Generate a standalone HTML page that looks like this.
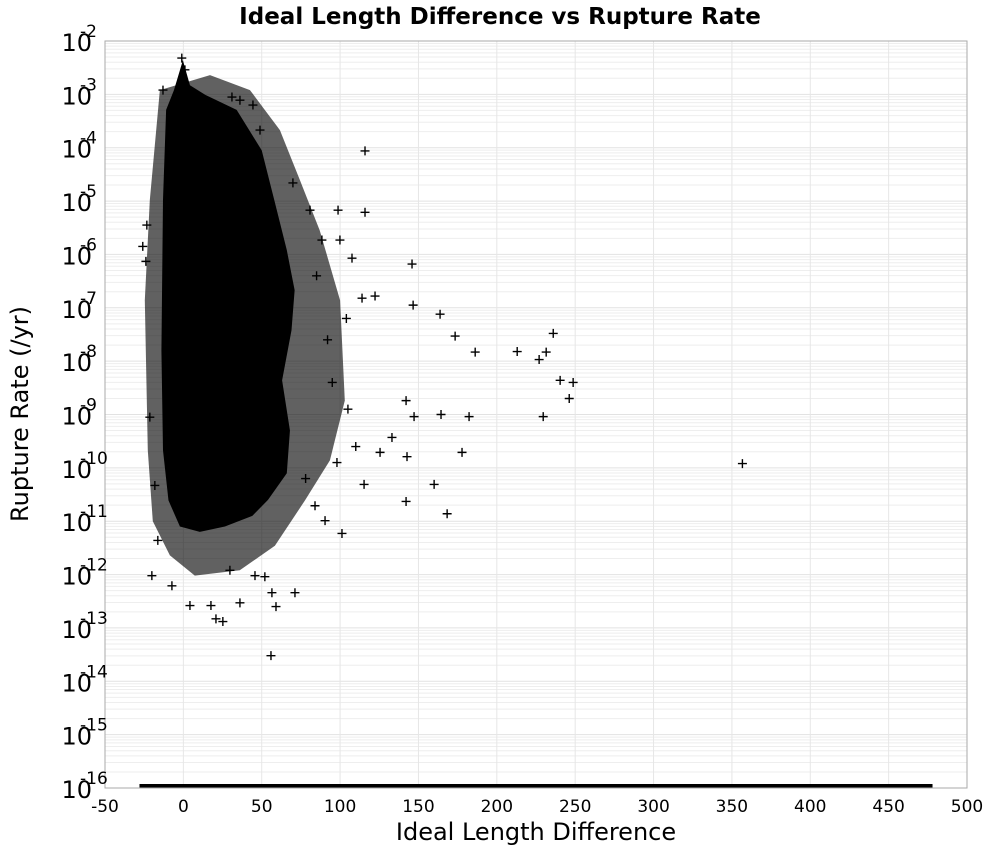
<!DOCTYPE html>
<html><head><meta charset="utf-8"><style>
body{margin:0;background:#fff}
svg{display:block;font-family:"Liberation Sans","DejaVu Sans",sans-serif}
</style></head><body>
<svg id="chart" width="1000" height="850" viewBox="0 0 1000 850" xmlns="http://www.w3.org/2000/svg">
<text x="500" y="24" text-anchor="middle" font-size="23" font-weight="bold" font-family="DejaVu Sans, sans-serif">Ideal Length Difference vs Rupture Rate</text>
<g id="grid"></g>
<g id="marks"></g>
<rect x="105" y="41" width="862" height="747" fill="none" stroke="#aaa" stroke-width="1"/>
<g id="axes"></g>
<text x="536" y="840" text-anchor="middle" font-size="24" font-family="DejaVu Sans, sans-serif">Ideal Length Difference</text>
<text transform="translate(28,414) rotate(-90)" text-anchor="middle" font-size="24" font-family="DejaVu Sans, sans-serif">Rupture Rate (/yr)</text>
</svg>
<script>
const xTicks=[-50,0,50,100,150,200,250,300,350,400,450,500];
const yExps=[-2,-3,-4,-5,-6,-7,-8,-9,-10,-11,-12,-13,-14,-15,-16];
// dense core outline [x, log10 rate]
const coreX=[-0.3,-6,-11,-13,-14,-13,-9.5,-2.2,10.5,26.5,44,54,66,68,63,69,71,66,58,50,34,14,4.2];
const coreE=[-2.36,-2.92,-3.29,-4.98,-7.8,-9.67,-10.61,-11.1,-11.2,-11.1,-10.9,-10.6,-10.1,-9.3,-8.36,-7.42,-6.67,-5.92,-4.98,-4.05,-3.29,-3.01,-2.83];
// sparser halo outline
const haloX=[-15,-21.4,-24.6,-22.7,-19.5,-8.6,7.3,36,58.4,77.6,93.5,103,100,87,74.4,61.6,42.5,17];
const haloE=[-2.92,-4.98,-6.86,-9.67,-11.0,-11.64,-12.02,-11.92,-11.46,-10.61,-9.86,-8.74,-6.86,-5.55,-4.61,-3.67,-2.92,-2.64];
// individual outlier points
const ptX=[-1,1,-13,31,36.1,44.4,48.9,115.9,98.7,115.9,69.9,80.8,88.4,99.9,107.6,145.9,114,122.3,146.6,163.8,173.4,236,186.2,231.5,213,227,240.4,248.7,246.2,229.6,142.1,147.2,142.7,177.8,356.7,164.4,182.3,133.1,125.5,115.3,160,142.1,168.3,101.2,56.5,71.2,52,17.6,36.1,59.1,20.8,25.2,55.9,-23.3,-25.9,-23.9,-21.4,-18.2,-16.3,-20.1,-7.3,4.2,29.7,45.7,90.4,84,95,105,110,92,85,78,104,98];
const ptE=[-2.32,-2.54,-2.92,-3.05,-3.11,-3.2,-3.67,-4.06,-5.17,-5.21,-4.66,-5.17,-5.73,-5.73,-6.07,-6.18,-6.82,-6.78,-6.95,-7.12,-7.53,-7.48,-7.83,-7.83,-7.82,-7.97,-8.36,-8.4,-8.7,-9.04,-8.74,-9.04,-9.79,-9.71,-9.92,-9.0,-9.04,-9.43,-9.71,-10.31,-10.31,-10.63,-10.86,-11.23,-12.34,-12.34,-12.04,-12.58,-12.53,-12.6,-12.83,-12.88,-13.52,-5.45,-5.85,-6.13,-9.05,-10.33,-11.36,-12.02,-12.21,-12.58,-11.92,-12.02,-10.99,-10.71,-8.4,-8.9,-9.6,-7.6,-6.4,-10.2,-7.2,-9.9];
// zero-rate records clamped to 1e-16: x extent
const zeroX=[-28,478];
const zeroE=-16;

const L=105,R=967,T=41,B=788;
const sx=v=>L+(v+50)/550*(R-L);
const sy=e=>T+(-2-e)/14*(B-T);
const NS="http://www.w3.org/2000/svg";
function mk(tag,attrs,parent){const el=document.createElementNS(NS,tag);for(const k in attrs)el.setAttribute(k,attrs[k]);parent.appendChild(el);return el;}
const grid=document.getElementById('grid'),marks=document.getElementById('marks'),axes=document.getElementById('axes');
for(let e=-16;e<-2;e++){for(let m=2;m<=9;m++){const y=sy(e+Math.log10(m));
const ln=mk('line',{x1:L,x2:R,y1:y,y2:y,stroke:'#eeeeee','stroke-width':1},grid);

}}
yExps.forEach(e=>{const y=sy(e);
const ln=mk('line',{x1:L,x2:R,y1:y,y2:y,stroke:'#e2e2e2','stroke-width':1},grid);


const t=mk('text',{x:92,y:y+10,'text-anchor':'end','font-size':24,'font-family':'DejaVu Sans, sans-serif'},axes);t.textContent='10';


const s=mk('text',{x:80,y:y-4,'font-size':17,'font-family':'DejaVu Sans, sans-serif'},axes);s.textContent=String(e);

});
xTicks.forEach(v=>{const x=sx(v);
const ln=mk('line',{x1:x,x2:x,y1:T,y2:B,stroke:'#e6e6e6','stroke-width':1},grid);


const t=mk('text',{x:x,y:812,'text-anchor':'middle','font-size':17,'font-family':'DejaVu Sans, sans-serif'},axes);t.textContent=String(v);

});
const halo=mk('polygon',{points:haloX.map((v,i)=>sx(v)+','+sy(haloE[i])).join(' '),fill:'#000','fill-opacity':0.62},marks);


const core=mk('polygon',{points:coreX.map((v,i)=>sx(v)+','+sy(coreE[i])).join(' '),fill:'#000'},marks);


ptX.forEach((v,i)=>{const x=sx(v),y=sy(ptE[i]);
const p=mk('path',{d:`M${x-4.5},${y}H${x+4.5}M${x},${y-4.5}V${y+4.5}`,stroke:'#000','stroke-width':1.4},marks);

});
const zb=mk('rect',{x:sx(zeroX[0]),y:sy(zeroE)-4,width:sx(zeroX[1])-sx(zeroX[0]),height:4,fill:'#000'},marks);


</script>
</body></html>
